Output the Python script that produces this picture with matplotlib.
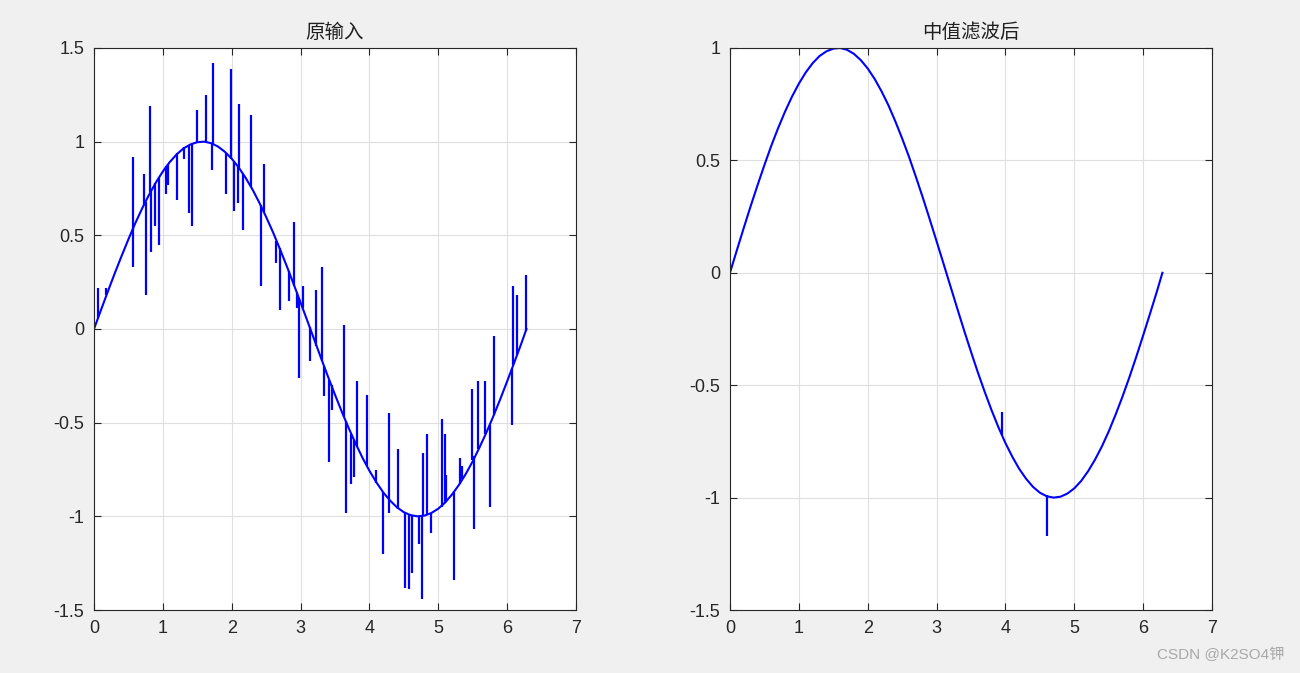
import matplotlib
matplotlib.use("Agg")
import matplotlib.pyplot as plt

plt.rcParams['font.family'] = ['Liberation Sans', 'Noto Sans CJK SC', 'DejaVu Sans']
plt.rcParams['axes.unicode_minus'] = False

# underlying curve (x step 0.1, last point at 2*pi)
curve_x = [0.0, 0.1, 0.2, 0.3, 0.4, 0.5, 0.6, 0.7, 0.8, 0.9,
           1.0, 1.1, 1.2, 1.3, 1.4, 1.5, 1.6, 1.7, 1.8, 1.9,
           2.0, 2.1, 2.2, 2.3, 2.4, 2.5, 2.6, 2.7, 2.8, 2.9,
           3.0, 3.1, 3.2, 3.3, 3.4, 3.5, 3.6, 3.7, 3.8, 3.9,
           4.0, 4.1, 4.2, 4.3, 4.4, 4.5, 4.6, 4.7, 4.8, 4.9,
           5.0, 5.1, 5.2, 5.3, 5.4, 5.5, 5.6, 5.7, 5.8, 5.9,
           6.0, 6.1, 6.2, 6.28]
raw_y = [0.000, 0.100, 0.199, 0.296, 0.389, 0.479, 0.565, 0.644, 0.717, 0.783,
         0.841, 0.891, 0.932, 0.964, 0.985, 0.997, 1.000, 0.992, 0.974, 0.946,
         0.909, 0.863, 0.808, 0.746, 0.675, 0.598, 0.516, 0.427, 0.335, 0.239,
         0.141, 0.042, -0.058, -0.158, -0.256, -0.351, -0.443, -0.530, -0.612, -0.688,
         -0.757, -0.818, -0.872, -0.916, -0.952, -0.978, -0.994, -1.000, -0.996, -0.982,
         -0.959, -0.926, -0.883, -0.832, -0.773, -0.706, -0.631, -0.551, -0.465, -0.374,
         -0.279, -0.182, -0.083, 0.000]

# noise spikes on the left plot: position, curve value there, spike tip
spike_x = [0.06, 0.18, 0.56, 0.57, 0.72, 0.75, 0.82, 0.83, 0.89, 0.95,
           1.05, 1.07, 1.21, 1.31, 1.38, 1.43, 1.50, 1.63, 1.71, 1.73,
           1.92, 1.99, 2.04, 2.09, 2.10, 2.16, 2.28, 2.42, 2.47, 2.65,
           2.70, 2.83, 2.91, 2.95, 2.98, 3.03, 3.13, 3.23, 3.31, 3.34,
           3.41, 3.45, 3.63, 3.66, 3.73, 3.77, 3.82, 3.97, 4.10, 4.19,
           4.28, 4.29, 4.41, 4.52, 4.58, 4.62, 4.72, 4.77, 4.78, 4.83,
           4.90, 5.05, 5.09, 5.11, 5.23, 5.31, 5.35, 5.49, 5.52, 5.58,
           5.68, 5.75, 5.81, 6.07, 6.09, 6.14, 6.27]
spike_base = [0.06, 0.18, 0.53, 0.54, 0.66, 0.68, 0.73, 0.74, 0.78, 0.81,
              0.87, 0.88, 0.94, 0.97, 0.98, 0.99, 1.00, 1.00, 0.99, 0.99,
              0.94, 0.91, 0.89, 0.87, 0.86, 0.83, 0.76, 0.66, 0.62, 0.47,
              0.43, 0.31, 0.23, 0.19, 0.16, 0.11, 0.01, -0.09, -0.17, -0.20,
              -0.27, -0.30, -0.47, -0.49, -0.56, -0.59, -0.63, -0.73, -0.82, -0.87,
              -0.91, -0.91, -0.96, -0.98, -0.99, -1.00, -1.00, -1.00, -1.00, -0.99,
              -0.98, -0.95, -0.93, -0.92, -0.87, -0.83, -0.80, -0.70, -0.68, -0.64,
              -0.56, -0.51, -0.46, -0.21, -0.19, -0.14, -0.01]
spike_y = [0.22, 0.22, 0.92, 0.33, 0.83, 0.18, 1.19, 0.41, 0.55, 0.45,
           0.72, 0.77, 0.69, 0.91, 0.62, 0.55, 1.17, 1.25, 0.85, 1.42,
           0.72, 1.39, 0.63, 0.67, 1.20, 0.53, 1.14, 0.23, 0.88, 0.35,
           0.10, 0.15, 0.57, 0.11, -0.26, 0.23, -0.17, 0.21, 0.33, -0.36,
           -0.71, -0.43, 0.02, -0.98, -0.83, -0.79, -0.28, -0.35, -0.75, -1.20,
           -0.45, -0.98, -0.64, -1.38, -1.39, -1.30, -1.15, -1.44, -0.66, -0.56,
           -1.09, -0.48, -0.56, -0.78, -1.34, -0.69, -0.73, -0.32, -1.07, -0.28,
           -0.28, -0.95, -0.04, -0.51, 0.23, 0.18, 0.29]

# median-filtered output
filt_y = [0.000, 0.100, 0.199, 0.296, 0.389, 0.479, 0.565, 0.644, 0.717, 0.783,
          0.841, 0.891, 0.932, 0.964, 0.985, 0.997, 1.000, 0.992, 0.974, 0.946,
          0.909, 0.863, 0.808, 0.746, 0.675, 0.598, 0.516, 0.427, 0.335, 0.239,
          0.141, 0.042, -0.058, -0.158, -0.256, -0.351, -0.443, -0.530, -0.612, -0.688,
          -0.757, -0.818, -0.872, -0.916, -0.952, -0.978, -0.994, -1.000, -0.996, -0.982,
          -0.959, -0.926, -0.883, -0.832, -0.773, -0.706, -0.631, -0.551, -0.465, -0.374,
          -0.279, -0.182, -0.083, 0.000]
filt_spike_x = [3.95, 4.60]
filt_spike_base = [-0.72, -0.99]
filt_spike_y = [-0.62, -1.17]

titles = ['原输入', '中值滤波后']
left_yticks = [-1.5, -1, -0.5, 0, 0.5, 1, 1.5]
right_yticks = [-1.5, -1, -0.5, 0, 0.5, 1]
xticks = [0, 1, 2, 3, 4, 5, 6, 7]


def tick_text(v):
    return ('%g' % v)


fig = plt.figure(figsize=(13, 6.73), dpi=100, facecolor='#f0f0f0')
ax1 = fig.add_axes([0.0723, 0.0936, 0.3708, 0.8351])
ax2 = fig.add_axes([0.5615, 0.0936, 0.3708, 0.8351])

ax1.plot(curve_x, raw_y, color='#0000ff', linewidth=1.5)
ax1.vlines(spike_x, spike_base, spike_y, color='#0000ff', linewidth=1.6)
ax1.set_ylim(-1.5, 1.5)
ax1.set_yticks(left_yticks)
ax1.set_yticklabels([tick_text(v) for v in left_yticks])

ax2.plot(curve_x, filt_y, color='#0000ff', linewidth=1.5)
ax2.vlines(filt_spike_x, filt_spike_base, filt_spike_y, color='#0000ff', linewidth=1.6)
ax2.set_ylim(-1.5, 1)
ax2.set_yticks(right_yticks)
ax2.set_yticklabels([tick_text(v) for v in right_yticks])

for ax, t in zip([ax1, ax2], titles):
    ax.set_xlim(0, 7)
    ax.set_xticks(xticks)
    ax.set_xticklabels([tick_text(v) for v in xticks])
    ax.grid(True, color='#dfdfdf', linewidth=0.8)
    ax.set_axisbelow(True)
    ax.tick_params(direction='in', top=True, right=True, length=5,
                   labelsize=13, colors='#262626', pad=7)
    for s in ax.spines.values():
        s.set_color('#262626')
        s.set_linewidth(0.8)
    ax.set_title(t, fontsize=14, color='#202020', pad=7,
                 family=['Noto Sans CJK SC', 'DejaVu Sans'])

fig.text(0.988, 0.027, 'CSDN @K2SO4钾', ha='right', va='center', fontsize=11,
         color='#a8a8a8', family=['Liberation Sans', 'Noto Sans CJK SC'])

fig.savefig('out.png', dpi=100, facecolor=fig.get_facecolor())
